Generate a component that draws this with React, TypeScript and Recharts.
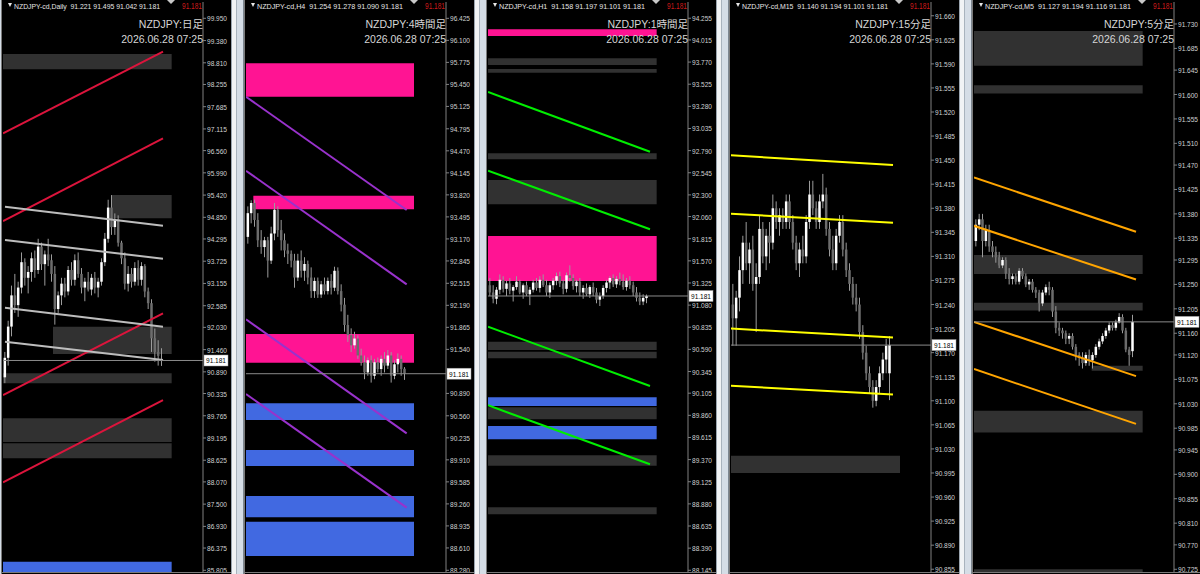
import React from "react";
import { ComposedChart, Bar, XAxis, YAxis, ReferenceArea, ReferenceLine } from "recharts";

// MT4 style 5-up multi-timeframe board: NZDJPY Daily / H4 / H1 / M15 / M5

type Candle = [number, number, number, number]; // open, high, low, close
type ZoneKind = "gray" | "pink" | "blue";
type Zone = { from: number; to: number; lo: number; hi: number; kind: ZoneKind };
type Trend = { from: number; to: number; start: number; end: number; kind: string };

const LAST_PRICE = 91.181;
const STAMP = "2026.06.28 07:25";

// data -----------------------------------------------------------------------
const dailyCandles: Candle[] = [
  [90.75, 91.40, 90.60, 91.25], [91.25, 92.20, 91.05, 92.05], [92.05, 93.10, 91.80, 92.85], [92.85, 93.40, 92.40, 92.60],
  [92.60, 93.20, 92.30, 93.05], [93.05, 93.95, 92.90, 93.70], [93.70, 93.80, 93.10, 93.30], [93.30, 93.60, 92.90, 93.45],
  [93.45, 93.95, 93.20, 93.80], [93.80, 94.00, 93.30, 93.50], [93.50, 94.30, 93.40, 94.10], [94.10, 94.20, 93.50, 93.65],
  [93.65, 94.00, 93.10, 93.90], [93.90, 94.30, 93.60, 93.75], [93.75, 93.90, 93.20, 93.40], [93.40, 93.60, 92.10, 92.50],
  [92.50, 92.95, 92.40, 92.85], [92.85, 93.30, 92.60, 93.15], [93.15, 93.30, 92.80, 92.95], [92.95, 93.60, 92.85, 93.50],
  [93.50, 93.70, 93.10, 93.25], [93.25, 93.90, 93.10, 93.75], [93.75, 93.95, 93.30, 93.40], [93.40, 93.55, 92.90, 93.05],
  [93.05, 93.30, 92.70, 93.20], [93.20, 93.45, 92.95, 93.00], [93.00, 93.40, 92.85, 93.30], [93.30, 93.45, 92.90, 93.05],
  [93.05, 93.30, 92.80, 93.20], [93.20, 93.80, 93.10, 93.70], [93.70, 94.45, 93.60, 94.30], [94.30, 95.30, 94.20, 95.10],
  [95.10, 95.42, 94.40, 94.60], [94.60, 94.95, 94.40, 94.80], [94.80, 94.90, 94.10, 94.20], [94.20, 94.25, 93.65, 93.80],
  [93.80, 93.95, 93.00, 93.15], [93.15, 93.60, 92.95, 93.40], [93.40, 93.55, 93.05, 93.20], [93.20, 93.70, 93.10, 93.55],
  [93.55, 93.75, 93.10, 93.25], [93.25, 93.70, 93.10, 93.60], [93.60, 93.65, 92.80, 92.95], [92.95, 93.05, 92.50, 92.65],
  [92.65, 92.75, 91.40, 91.75], [91.75, 92.00, 91.15, 91.40], [91.40, 91.70, 91.05, 91.30], [91.221, 91.495, 91.042, 91.181],
];
const h4Candles: Candle[] = [
  [93.20, 93.65, 93.10, 93.55], [93.55, 93.74, 93.40, 93.70], [93.70, 93.75, 93.35, 93.45], [93.45, 93.55, 93.05, 93.15],
  [93.15, 93.30, 92.95, 93.05], [93.05, 93.20, 92.90, 93.15], [93.15, 93.20, 92.60, 92.85], [92.85, 93.35, 92.80, 93.25],
  [93.25, 93.70, 93.15, 93.60], [93.60, 93.65, 93.20, 93.30], [93.30, 93.45, 93.00, 93.15], [93.15, 93.25, 92.90, 93.00],
  [93.00, 93.10, 92.80, 92.95], [92.95, 93.00, 92.75, 92.85], [92.85, 92.95, 92.45, 92.60], [92.60, 92.95, 92.55, 92.85],
  [92.85, 93.00, 92.60, 92.70], [92.70, 92.90, 92.55, 92.80], [92.80, 92.85, 92.50, 92.60], [92.60, 92.75, 92.30, 92.40],
  [92.40, 92.60, 92.30, 92.55], [92.55, 92.60, 92.30, 92.35], [92.35, 92.55, 92.30, 92.50], [92.50, 92.60, 92.35, 92.40],
  [92.40, 92.60, 92.35, 92.55], [92.55, 92.65, 92.35, 92.45], [92.45, 92.76, 92.40, 92.70], [92.70, 92.75, 92.35, 92.40],
  [92.40, 92.50, 92.10, 92.20], [92.20, 92.30, 91.80, 91.90], [91.90, 92.05, 91.65, 91.75], [91.75, 91.85, 91.50, 91.60],
  [91.60, 91.80, 91.55, 91.70], [91.70, 91.75, 91.40, 91.45], [91.45, 91.55, 91.30, 91.35], [91.35, 91.45, 91.10, 91.20],
  [91.20, 91.42, 91.15, 91.38], [91.38, 91.45, 91.05, 91.15], [91.15, 91.40, 91.10, 91.35], [91.35, 91.42, 91.20, 91.25],
  [91.25, 91.45, 91.15, 91.40], [91.40, 91.50, 91.20, 91.30], [91.30, 91.53, 91.25, 91.45], [91.45, 91.50, 91.05, 91.15],
  [91.15, 91.38, 91.10, 91.32], [91.32, 91.48, 91.20, 91.40], [91.40, 91.45, 91.15, 91.25], [91.254, 91.278, 91.090, 91.181],
];
const h1Candles: Candle[] = [
  [91.30, 91.38, 91.18, 91.22], [91.22, 91.30, 91.10, 91.15], [91.15, 91.28, 91.09, 91.25], [91.25, 91.42, 91.20, 91.36],
  [91.36, 91.40, 91.22, 91.26], [91.26, 91.35, 91.18, 91.32], [91.32, 91.38, 91.20, 91.24], [91.24, 91.30, 91.12, 91.28],
  [91.28, 91.40, 91.25, 91.34], [91.34, 91.36, 91.20, 91.22], [91.22, 91.32, 91.15, 91.30], [91.30, 91.34, 91.18, 91.20],
  [91.20, 91.28, 91.08, 91.25], [91.25, 91.36, 91.22, 91.33], [91.33, 91.38, 91.24, 91.27], [91.27, 91.40, 91.22, 91.36],
  [91.36, 91.42, 91.28, 91.30], [91.30, 91.36, 91.18, 91.22], [91.22, 91.33, 91.16, 91.30], [91.30, 91.38, 91.25, 91.35],
  [91.35, 91.44, 91.30, 91.40], [91.40, 91.45, 91.28, 91.32], [91.32, 91.36, 91.20, 91.26], [91.26, 91.44, 91.22, 91.41],
  [91.41, 91.52, 91.34, 91.38], [91.38, 91.42, 91.25, 91.29], [91.29, 91.36, 91.22, 91.34], [91.34, 91.38, 91.18, 91.22],
  [91.22, 91.30, 91.15, 91.27], [91.27, 91.32, 91.18, 91.20], [91.20, 91.30, 91.16, 91.28], [91.28, 91.33, 91.18, 91.22],
  [91.22, 91.27, 91.10, 91.14], [91.14, 91.22, 91.07, 91.18], [91.18, 91.30, 91.15, 91.27], [91.27, 91.36, 91.22, 91.33],
  [91.33, 91.40, 91.26, 91.38], [91.38, 91.42, 91.28, 91.31], [91.31, 91.40, 91.27, 91.37], [91.37, 91.44, 91.30, 91.34],
  [91.34, 91.42, 91.25, 91.28], [91.28, 91.38, 91.24, 91.35], [91.35, 91.40, 91.26, 91.30], [91.30, 91.34, 91.18, 91.22],
  [91.22, 91.28, 91.12, 91.16], [91.16, 91.22, 91.08, 91.12], [91.12, 91.20, 91.08, 91.16], [91.158, 91.197, 91.101, 91.181],
];
const m15Candles: Candle[] = [
  [91.24, 91.27, 91.18, 91.22], [91.22, 91.26, 91.18, 91.25], [91.25, 91.31, 91.23, 91.29], [91.29, 91.34, 91.27, 91.33],
  [91.33, 91.36, 91.29, 91.30], [91.30, 91.33, 91.27, 91.32], [91.32, 91.34, 91.26, 91.27], [91.27, 91.30, 91.20, 91.28],
  [91.28, 91.37, 91.27, 91.35], [91.35, 91.36, 91.30, 91.31], [91.31, 91.35, 91.29, 91.34], [91.34, 91.36, 91.30, 91.33],
  [91.33, 91.40, 91.32, 91.38], [91.38, 91.39, 91.35, 91.36], [91.36, 91.38, 91.34, 91.37], [91.37, 91.38, 91.35, 91.36],
  [91.36, 91.40, 91.35, 91.39], [91.39, 91.40, 91.35, 91.36], [91.36, 91.37, 91.32, 91.33], [91.33, 91.34, 91.29, 91.30],
  [91.30, 91.33, 91.28, 91.32], [91.32, 91.34, 91.30, 91.31], [91.31, 91.37, 91.30, 91.36], [91.36, 91.42, 91.35, 91.40],
  [91.40, 91.42, 91.37, 91.38], [91.38, 91.39, 91.35, 91.36], [91.36, 91.40, 91.35, 91.39], [91.39, 91.43, 91.38, 91.40],
  [91.40, 91.41, 91.34, 91.35], [91.35, 91.36, 91.31, 91.32], [91.32, 91.34, 91.29, 91.30], [91.30, 91.35, 91.29, 91.34],
  [91.34, 91.37, 91.33, 91.36], [91.36, 91.37, 91.31, 91.32], [91.32, 91.33, 91.28, 91.29], [91.29, 91.30, 91.26, 91.27],
  [91.27, 91.28, 91.24, 91.25], [91.25, 91.27, 91.23, 91.24], [91.24, 91.25, 91.19, 91.20], [91.20, 91.21, 91.16, 91.17],
  [91.17, 91.18, 91.13, 91.14], [91.14, 91.15, 91.11, 91.12], [91.12, 91.13, 91.09, 91.10], [91.10, 91.13, 91.092, 91.12],
  [91.12, 91.15, 91.11, 91.14], [91.14, 91.17, 91.13, 91.16], [91.16, 91.19, 91.14, 91.18], [91.140, 91.194, 91.101, 91.181],
];
const m5Candles: Candle[] = [
  [91.33, 91.37, 91.32, 91.36], [91.36, 91.38, 91.35, 91.37], [91.37, 91.38, 91.30, 91.33], [91.33, 91.36, 91.32, 91.35],
  [91.35, 91.36, 91.31, 91.32], [91.32, 91.33, 91.30, 91.31], [91.31, 91.32, 91.29, 91.30], [91.30, 91.31, 91.28, 91.285],
  [91.285, 91.30, 91.28, 91.295], [91.295, 91.30, 91.26, 91.27], [91.27, 91.28, 91.25, 91.26], [91.26, 91.27, 91.25, 91.265],
  [91.265, 91.27, 91.25, 91.255], [91.255, 91.28, 91.25, 91.275], [91.275, 91.28, 91.26, 91.265], [91.265, 91.27, 91.245, 91.25],
  [91.25, 91.26, 91.24, 91.255], [91.255, 91.26, 91.235, 91.24], [91.24, 91.245, 91.225, 91.235], [91.235, 91.24, 91.20, 91.215],
  [91.215, 91.24, 91.21, 91.235], [91.235, 91.25, 91.23, 91.245], [91.245, 91.255, 91.23, 91.24], [91.24, 91.245, 91.19, 91.20],
  [91.20, 91.21, 91.16, 91.17], [91.17, 91.18, 91.155, 91.165], [91.165, 91.17, 91.15, 91.16], [91.16, 91.165, 91.14, 91.15],
  [91.15, 91.16, 91.14, 91.155], [91.155, 91.16, 91.13, 91.135], [91.135, 91.14, 91.11, 91.12], [91.12, 91.125, 91.10, 91.115],
  [91.115, 91.125, 91.095, 91.105], [91.105, 91.125, 91.10, 91.12], [91.12, 91.13, 91.10, 91.11], [91.11, 91.125, 91.095, 91.12],
  [91.12, 91.14, 91.115, 91.135], [91.135, 91.15, 91.13, 91.145], [91.145, 91.16, 91.14, 91.155], [91.155, 91.17, 91.15, 91.165],
  [91.165, 91.18, 91.16, 91.175], [91.175, 91.18, 91.165, 91.17], [91.17, 91.185, 91.165, 91.18], [91.18, 91.197, 91.178, 91.19],
  [91.19, 91.195, 91.16, 91.165], [91.165, 91.17, 91.125, 91.13], [91.13, 91.135, 91.10, 91.12], [91.127, 91.194, 91.116, 91.181],
];

// price scale tick labels (91.215 on H4 sits under the price tag)
const dailyTicks = [99.950, 99.380, 98.810, 98.255, 97.685, 97.115, 96.560, 95.990, 95.420, 94.850, 94.295, 93.725, 93.155,
  92.585, 92.030, 91.460, 90.890, 90.335, 89.765, 89.195, 88.625, 88.070, 87.500, 86.930, 86.375, 85.805];
const h4Ticks = [96.425, 96.100, 95.775, 95.450, 95.125, 94.795, 94.470, 94.145, 93.820, 93.495, 93.170, 92.845, 92.515,
  92.190, 91.865, 91.540, 90.890, 90.560, 90.235, 89.910, 89.585, 89.260, 88.935, 88.610, 88.280];
const h1Ticks = [94.255, 94.015, 93.770, 93.525, 93.280, 93.035, 92.790, 92.545, 92.300, 92.060, 91.815, 91.570, 91.325,
  91.080, 90.835, 90.590, 90.345, 90.105, 89.860, 89.615, 89.370, 89.125, 88.880, 88.635, 88.390, 88.145];
const m15Ticks = [91.660, 91.625, 91.590, 91.555, 91.520, 91.485, 91.450, 91.415, 91.380, 91.345, 91.310, 91.275, 91.240,
  91.205, 91.170, 91.135, 91.100, 91.065, 91.030, 90.995, 90.960, 90.925, 90.890, 90.855];
const m5Ticks = [91.730, 91.685, 91.645, 91.600, 91.555, 91.510, 91.470, 91.425, 91.380, 91.335, 91.295, 91.250, 91.205,
  91.160, 91.120, 91.075, 91.030, 90.985, 90.945, 90.900, 90.855, 90.810, 90.770, 90.725];

// zones (from/to are bar indices)
const dailyZones: Zone[] = [
  { from: -0.6, to: 50, lo: 98.643, hi: 99.035, kind: "gray" },
  { from: 32, to: 50, lo: 94.824, hi: 95.422, kind: "gray" },
  { from: 14.4, to: 50, lo: 91.347, hi: 92.046, kind: "gray" },
  { from: -0.6, to: 50, lo: 90.596, hi: 90.852, kind: "gray" },
  { from: -0.6, to: 50, lo: 89.091, hi: 89.699, kind: "gray" },
  { from: -0.6, to: 50, lo: 88.674, hi: 89.058, kind: "gray" },
  { from: -0.6, to: 50, lo: 85.6, hi: 86.024, kind: "blue" },
];
const h4Zones: Zone[] = [
  { from: -0.6, to: 49.8, lo: 95.268, hi: 95.761, kind: "pink" },
  { from: 1.6, to: 49.8, lo: 93.607, hi: 93.807, kind: "pink" },
  { from: -0.6, to: 49.8, lo: 91.343, hi: 91.767, kind: "pink" },
  { from: -0.6, to: 49.8, lo: 90.498, hi: 90.744, kind: "blue" },
  { from: -0.6, to: 49.8, lo: 89.819, hi: 90.055, kind: "blue" },
  { from: -0.6, to: 49.8, lo: 89.062, hi: 89.376, kind: "blue" },
  { from: -0.6, to: 49.8, lo: 88.491, hi: 88.997, kind: "blue" },
];
const h1Zones: Zone[] = [
  { from: -0.6, to: 50, lo: 94.059, hi: 94.133, kind: "pink" },
  { from: -0.6, to: 50, lo: 93.738, hi: 93.812, kind: "gray" },
  { from: -0.6, to: 50, lo: 93.653, hi: 93.694, kind: "gray" },
  { from: -0.6, to: 50, lo: 92.694, hi: 92.761, kind: "gray" },
  { from: -0.6, to: 50, lo: 92.196, hi: 92.465, kind: "gray" },
  { from: -0.6, to: 50, lo: 91.347, hi: 91.845, kind: "pink" },
  { from: -0.6, to: 50, lo: 90.583, hi: 90.675, kind: "gray" },
  { from: -0.6, to: 50, lo: 90.491, hi: 90.564, kind: "gray" },
  { from: -0.6, to: 50, lo: 89.963, hi: 90.060, kind: "blue" },
  { from: -0.6, to: 50, lo: 89.816, hi: 89.949, kind: "gray" },
  { from: -0.6, to: 50, lo: 89.595, hi: 89.742, kind: "blue" },
  { from: -0.6, to: 50, lo: 89.303, hi: 89.418, kind: "gray" },
  { from: -0.6, to: 50, lo: 88.765, hi: 88.842, kind: "gray" },
];
const m15Zones: Zone[] = [
  { from: -0.6, to: 50.1, lo: 90.995, hi: 91.020, kind: "gray" },
];
const m5Zones: Zone[] = [
  { from: -0.6, to: 50, lo: 91.653, hi: 91.717, kind: "gray" },
  { from: -0.6, to: 50, lo: 91.602, hi: 91.617, kind: "gray" },
  { from: -0.6, to: 50, lo: 91.269, hi: 91.304, kind: "gray" },
  { from: -0.6, to: 50, lo: 91.202, hi: 91.216, kind: "gray" },
  { from: 34.7, to: 50, lo: 91.091, hi: 91.100, kind: "gray" },
  { from: -0.6, to: 50, lo: 90.977, hi: 91.017, kind: "gray" },
  { from: -0.6, to: 50, lo: 90.70, hi: 90.725, kind: "gray" },
];

// trendlines
const dailyLines: Trend[] = [
  { from: -0.6, to: 47.4, start: 97.003, end: 99.094, kind: "red" },
  { from: -0.6, to: 47.4, start: 94.755, end: 96.875, kind: "red" },
  { from: -0.6, to: 47.4, start: 90.296, end: 92.390, kind: "red" },
  { from: -0.6, to: 47.4, start: 88.059, end: 90.168, kind: "red" },
  { from: 0, to: 47.4, start: 95.122, end: 94.635, kind: "silver" },
  { from: 0, to: 47.4, start: 94.268, end: 93.789, kind: "silver" },
  { from: 0, to: 47.4, start: 92.533, end: 92.046, kind: "silver" },
  { from: 0, to: 47.4, start: 91.662, end: 91.193, kind: "silver" },
];
const h4Lines: Trend[] = [
  { from: -0.6, to: 47.6, start: 95.268, end: 93.596, kind: "purple" },
  { from: -0.6, to: 47.6, start: 94.176, end: 92.500, kind: "purple" },
  { from: -0.6, to: 47.6, start: 91.983, end: 90.301, kind: "purple" },
  { from: -0.6, to: 47.6, start: 90.881, end: 89.204, kind: "purple" },
];
const h1Lines: Trend[] = [
  { from: -0.6, to: 48, start: 93.439, end: 92.778, kind: "green" },
  { from: -0.6, to: 48, start: 92.568, end: 91.919, kind: "green" },
  { from: -0.6, to: 48, start: 90.841, end: 90.185, kind: "green" },
  { from: -0.6, to: 48, start: 89.971, end: 89.318, kind: "green" },
];
const m15Lines: Trend[] = [
  { from: -0.6, to: 48, start: 91.457, end: 91.443, kind: "yellow" },
  { from: -0.6, to: 48, start: 91.372, end: 91.359, kind: "yellow" },
  { from: -0.6, to: 48, start: 91.205, end: 91.192, kind: "yellow" },
  { from: -0.6, to: 48, start: 91.122, end: 91.109, kind: "yellow" },
];
const m5Lines: Trend[] = [
  { from: -0.6, to: 48, start: 91.447, end: 91.347, kind: "orange" },
  { from: -0.6, to: 48, start: 91.358, end: 91.259, kind: "orange" },
  { from: -0.6, to: 48, start: 91.181, end: 91.081, kind: "orange" },
  { from: -0.6, to: 48, start: 91.094, end: 90.993, kind: "orange" },
];

// styles ---------------------------------------------------------------------
const ZONE_FILL: Record<ZoneKind, string> = { gray: "#313131", pink: "#ff1493", blue: "#4169e1" };
const LINE_COLOR: Record<string, string> = {
  red: "#dc143c", silver: "#bdbdbd", purple: "#9932cc", green: "#00ee00", yellow: "#ffff00", orange: "#ffa500",
};
const SMALL_FONT = "'Liberation Sans', 'DejaVu Sans', sans-serif";
const TITLE_FONT = "'Liberation Sans', 'Noto Sans CJK JP', sans-serif";
const X_DOMAIN: [number, number] = [-0.6, 59.4];
const PANEL_W = 230;
const PLOT_W = 200;

const panels = [
  { left: 1, symbol: "NZDJPY-cd,Daily", ohlc: "91.221 91.495 91.042 91.181", title: "NZDJPY:日足",
    candles: dailyCandles, ticks: dailyTicks, domain: [85.761, 100.368], zones: dailyZones, lines: dailyLines },
  { left: 244, symbol: "NZDJPY-cd,H4", ohlc: "91.254 91.278 91.090 91.181", title: "NZDJPY:4時間足",
    candles: h4Candles, ticks: h4Ticks, domain: [88.255, 96.666], zones: h4Zones, lines: h4Lines },
  { left: 486, symbol: "NZDJPY-cd,H1", ohlc: "91.158 91.197 91.101 91.181", title: "NZDJPY:1時間足",
    candles: h1Candles, ticks: h1Ticks, domain: [88.126, 94.435], zones: h1Zones, lines: h1Lines },
  { left: 729, symbol: "NZDJPY-cd,M15", ohlc: "91.140 91.194 91.101 91.181", title: "NZDJPY:15分足",
    candles: m15Candles, ticks: m15Ticks, domain: [90.851, 91.680], zones: m15Zones, lines: m15Lines },
  { left: 972, symbol: "NZDJPY-cd,M5", ohlc: "91.127 91.194 91.116 91.181", title: "NZDJPY:5分足",
    candles: m5Candles, ticks: m5Ticks, domain: [90.720, 91.7705], zones: m5Zones, lines: m5Lines },
];

// shapes ---------------------------------------------------------------------
const renderCandle = (props: any) => {
  const { x, y, width, height, payload } = props;
  if (!payload || x == null || y == null) return <g />;
  const top = Math.min(y, y + height);
  const span = Math.abs(height);
  const range = payload.h - payload.l || 1e-9;
  const k = span / range;
  const cx = x + (width || 0) / 2;
  const bodyTop = top + (payload.h - Math.max(payload.o, payload.c)) * k;
  const bodyBot = top + (payload.h - Math.min(payload.o, payload.c)) * k;
  const up = payload.c >= payload.o;
  return (
    <g>
      <line x1={cx} x2={cx} y1={top} y2={top + span} stroke="#9c9c9c" strokeWidth={1} />
      <rect x={cx - 1.25} y={bodyTop} width={2.5} height={Math.max(1, bodyBot - bodyTop)} fill={up ? "#ffffff" : "#6c6c6c"} />
    </g>
  );
};

// price-scale labels squeezed to the narrow MT4 look
const AxisTick = (props: any) => {
  const { x, y, payload } = props;
  return (
    <text x={x} y={y + 3} fontSize={7.2} fontFamily={SMALL_FONT} fill="#d2d2d2" textLength={20} lengthAdjust="spacingAndGlyphs">
      {Number(payload.value).toFixed(3)}
    </text>
  );
};

const PriceTag = (props: any) => {
  const vb = props.viewBox || {};
  const x = (vb.x || 0) + (vb.width || 0) + 1;
  const y = vb.y || 0;
  return (
    <g>
      <rect x={x} y={y - 5.5} width={24} height={11} fill="#ffffff" stroke="#9a9a9a" strokeWidth={0.5} />
      <text x={x + 2} y={y + 3} fontSize={7.2} fontFamily={SMALL_FONT} fill="#000000" textLength={20} lengthAdjust="spacingAndGlyphs">
        {LAST_PRICE.toFixed(3)}
      </text>
    </g>
  );
};

// panel ----------------------------------------------------------------------
const Panel: React.FC<{ cfg: (typeof panels)[number] }> = ({ cfg }) => {
  const data = cfg.candles.map((k, i) => ({ i, range: [k[2], k[1]], o: k[0], h: k[1], l: k[2], c: k[3] }));
  const header = cfg.symbol + "  " + cfg.ohlc;
  return (
    <div style={{ position: "absolute", left: cfg.left, top: 0, width: PANEL_W, height: 574, background: "#000", overflow: "hidden" }}>
      <ComposedChart width={PANEL_W} height={574} data={data} margin={{ top: 2, right: 0, bottom: 2, left: 2 }}>
        <XAxis dataKey="i" type="number" domain={X_DOMAIN} hide allowDataOverflow />
        <YAxis
          orientation="right"
          type="number"
          domain={cfg.domain as [number, number]}
          ticks={cfg.ticks}
          interval={0}
          width={28}
          allowDataOverflow
          stroke="#808080"
          tickSize={3}
          tickMargin={1}
          tick={<AxisTick />}
        />
        {cfg.zones.map((z, idx) => (
          <ReferenceArea key={"z" + idx} x1={z.from} x2={z.to} y1={z.lo} y2={z.hi}
            fill={ZONE_FILL[z.kind]} fillOpacity={1} stroke="none" ifOverflow="hidden" />
        ))}
        <Bar dataKey="range" barSize={3} isAnimationActive={false} shape={renderCandle} />
        {cfg.lines.map((t, idx) => (
          <ReferenceLine key={"t" + idx} segment={[{ x: t.from, y: t.start }, { x: t.to, y: t.end }]}
            stroke={LINE_COLOR[t.kind]} strokeWidth={2} ifOverflow="hidden" />
        ))}
        <ReferenceLine y={LAST_PRICE} stroke="#8a8a8a" strokeWidth={1} label={<PriceTag />} />
      </ComposedChart>

      {/* frame */}
      <div style={{ position: "absolute", left: 0, top: 0, width: 1, height: 574, background: "#7a7a7a" }} />
      <div style={{ position: "absolute", left: 0, top: 572, width: PANEL_W, height: 1, background: "#7a7a7a" }} />

      {/* header */}
      <div style={{ position: "absolute", left: 7, top: 3, width: 0, height: 0, borderLeft: "2.5px solid transparent", borderRight: "2.5px solid transparent", borderTop: "4px solid #e6e6e6" }} />
      <svg style={{ position: "absolute", left: 0, top: 0 }} width={PANEL_W} height={12}>
        <text x={13} y={9} fontSize={8} fontFamily={SMALL_FONT} fill="#e6e6e6" textLength={146} lengthAdjust="spacingAndGlyphs" xmlSpace="preserve">
          {header}
        </text>
        <text x={2 + PLOT_W - 1} y={9} fontSize={8.5} fontFamily={SMALL_FONT} fill="#cc1a1a" textAnchor="end" textLength={20} lengthAdjust="spacingAndGlyphs">
          {LAST_PRICE.toFixed(3)}
        </text>
      </svg>
      <div style={{ position: "absolute", left: 2 + 164, top: 0, width: 0, height: 0, borderLeft: "4px solid transparent", borderRight: "4px solid transparent", borderTop: "4px solid #c8c8c8" }} />
      <div style={{ position: "absolute", right: PANEL_W - 2 - PLOT_W, top: 18, fontSize: 10.5, lineHeight: "13px", color: "#d6d6d6", fontFamily: TITLE_FONT, whiteSpace: "nowrap", textAlign: "right" }}>
        {cfg.title}
      </div>
      <div style={{ position: "absolute", right: PANEL_W - 2 - PLOT_W, top: 33, fontSize: 10.5, lineHeight: "13px", color: "#d6d6d6", fontFamily: TITLE_FONT, whiteSpace: "nowrap", textAlign: "right" }}>
        {STAMP}
      </div>
    </div>
  );
};

const SEPARATOR = "linear-gradient(to right, #9aa4ae 0 1px, #f1f3f5 1px 5px, #a9b3bd 5px 6px, #d5dde6 6px 12px, #7d8791 12px 13px)";

export default function App() {
  return (
    <div style={{ position: "fixed", left: 0, top: 0, width: 1200, height: 574, overflow: "hidden", background: "#d5dde6" }}>
      {panels.map((p, idx) => (
        <React.Fragment key={idx}>
          <Panel cfg={p} />
          {idx < panels.length - 1 && (
            <div style={{ position: "absolute", left: p.left + PANEL_W, top: 0, width: panels[idx + 1].left - p.left - PANEL_W, height: 574, background: SEPARATOR }} />
          )}
        </React.Fragment>
      ))}
    </div>
  );
}
